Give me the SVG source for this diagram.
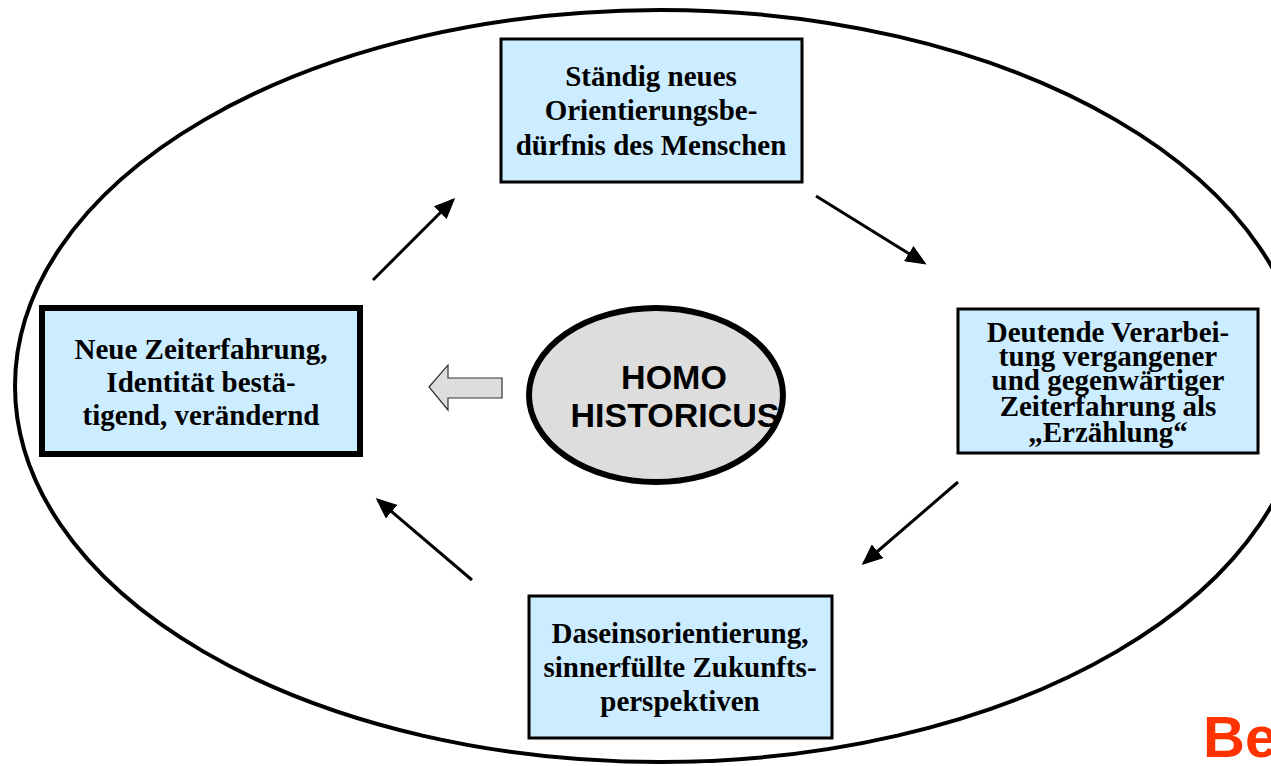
<svg xmlns="http://www.w3.org/2000/svg" width="1271" height="766" viewBox="0 0 1271 766">
<defs>
<style>
.box{fill:#CCECFF;stroke:#000;stroke-width:3}
.t{font-family:"Liberation Serif","Times New Roman",serif;font-weight:bold;font-size:29px;fill:#000;text-anchor:middle}
.h{font-family:"Liberation Sans",Arial,sans-serif;font-weight:bold;font-size:34px;fill:#000;text-anchor:middle}
.con{stroke:#000;stroke-width:3;fill:none;marker-end:url(#ah)}
</style>
<marker id="ah" markerWidth="7" markerHeight="6" refX="6" refY="3" orient="auto" markerUnits="strokeWidth">
<path d="M0,0 L7,3 L0,6 Z" fill="#000"/>
</marker>
</defs>
<rect width="1271" height="766" fill="#fff"/>
<ellipse id="outer" cx="660" cy="386" rx="645" ry="376" fill="none" stroke="#000" stroke-width="4"/>
<g id="connectors">
<line class="con" x1="373" y1="280" x2="453" y2="200"/>
<line class="con" x1="816" y1="196" x2="924" y2="263"/>
<line class="con" x1="958" y1="482" x2="864" y2="563"/>
<line class="con" x1="472" y1="580" x2="378" y2="500"/>
<path d="M429,387 L448,365 L448,378 L502,378 L502,398 L448,398 L448,410 Z" fill="#ddd" stroke="#333" stroke-width="1.2"/>
</g>
<g id="n-top">
<rect class="box" x="501" y="39" width="301" height="143"/>
<text class="t" x="651" y="86">Ständig neues</text>
<text class="t" x="651" y="120">Orientierungsbe-</text>
<text class="t" x="651" y="155">dürfnis des Menschen</text>
</g>
<g id="n-right">
<rect class="box" x="958" y="309" width="300" height="144"/>
<text class="t" x="1108" y="342">Deutende Verarbei-</text>
<text class="t" x="1108" y="366">tung vergangener</text>
<text class="t" x="1108" y="390">und gegenwärtiger</text>
<text class="t" x="1108" y="416">Zeiterfahrung als</text>
<text class="t" x="1108" y="442">„Erzählung“</text>
</g>
<g id="n-bottom">
<rect class="box" x="529" y="596" width="303" height="142"/>
<text class="t" x="680" y="643">Daseinsorientierung,</text>
<text class="t" x="680" y="677">sinnerfüllte Zukunfts-</text>
<text class="t" x="680" y="711">perspektiven</text>
</g>
<g id="n-left">
<rect x="42" y="308" width="318" height="146" fill="#CCECFF" stroke="#000" stroke-width="6"/>
<text class="t" x="201" y="359">Neue Zeiterfahrung,</text>
<text class="t" x="201" y="392">Identität bestä-</text>
<text class="t" x="201" y="425">tigend, verändernd</text>
</g>
<g id="n-center">
<ellipse cx="656" cy="395" rx="127" ry="87" fill="#DDDDDD" stroke="#000" stroke-width="6"/>
<text class="h" x="674" y="389">HOMO</text>
<text class="h" x="675" y="427">HISTORICUS</text>
</g>
<text x="1203" y="757" font-family="Liberation Sans, Arial, sans-serif" font-weight="bold" font-size="58" fill="#FF3300">Be</text>
</svg>
